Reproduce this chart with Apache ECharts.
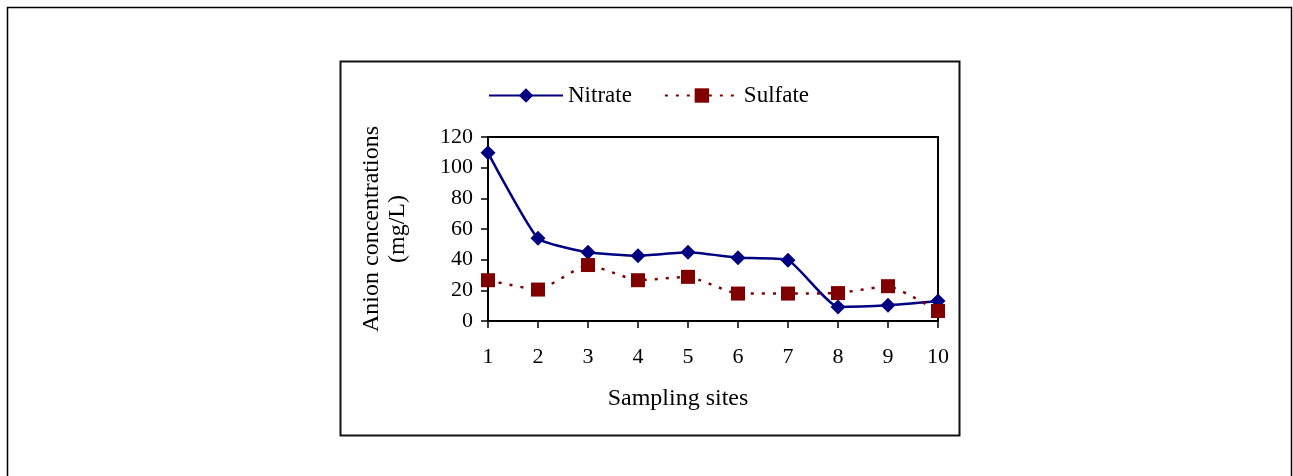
<!DOCTYPE html>
<html>
<head>
<meta charset="utf-8">
<script src="https://cdn.jsdelivr.net/npm/echarts@6/dist/echarts.min.js"></script>
<style>
html,body{margin:0;padding:0;background:#fff;}
#chart{width:1293px;height:476px;}
</style>
</head>
<body>
<div id="chart"></div>
<script>
const sites = ['1','2','3','4','5','6','7','8','9','10'];
const nitrate = [109.7, 53.9, 44.8, 42.6, 44.8, 41.3, 39.7, 9.2, 10.3, 13.1];
const sulfate = [26.6, 20.5, 36.5, 26.6, 28.8, 17.9, 17.9, 18.2, 22.7, 6.5];
const yTicks = [0, 20, 40, 60, 80, 100, 120];

const FONT = '"Liberation Serif", "Times New Roman", serif';
const chart = echarts.init(document.getElementById('chart'));
chart.setOption({
  backgroundColor: '#fff',
  animation: false,
  textStyle: { fontFamily: FONT, color: '#000' },
  graphic: [
    { type: 'rect', shape: { x: 7.5, y: 7.5, width: 1284, height: 500 },
      style: { fill: 'none', stroke: '#000', lineWidth: 1.5 } },
    { type: 'rect', shape: { x: 340.5, y: 61.5, width: 619, height: 374 },
      style: { fill: 'none', stroke: '#111', lineWidth: 2 } }
  ],
  legend: {
    left: 483, top: 79,
    itemWidth: 74, itemHeight: 18, itemGap: 32,
    textStyle: { fontFamily: FONT, fontSize: 23, color: '#000' },
    data: ['Nitrate', 'Sulfate']
  },
  grid: { left: 488, right: 355, top: 137, bottom: 155, show: true, borderColor: '#000', borderWidth: 2, containLabel: false },
  xAxis: {
    type: 'category', data: sites, boundaryGap: false,
    name: 'Sampling sites', nameLocation: 'middle', nameGap: 66,
    nameTextStyle: { fontFamily: FONT, fontSize: 24, color: '#000', padding: [0, 70, 0, 0] },
    axisLine: { lineStyle: { color: '#000', width: 2 } },
    axisTick: { show: true, length: 7, lineStyle: { color: '#000', width: 1.5 } },
    axisLabel: { fontFamily: FONT, fontSize: 22, color: '#000', margin: 25 },
    splitLine: { show: false }
  },
  yAxis: {
    type: 'value', min: 0, max: 120, interval: 20,
    name: 'Anion concentrations\n(mg/L)', nameLocation: 'middle', nameGap: 77,
    nameRotate: 90,
    nameTextStyle: { fontFamily: FONT, fontSize: 24, color: '#000', lineHeight: 26 },
    axisLine: { show: true, lineStyle: { color: '#000', width: 2 } },
    axisTick: { show: true, length: 7, lineStyle: { color: '#000', width: 1.5 } },
    axisLabel: { fontFamily: FONT, fontSize: 22, color: '#000', margin: 15,
      formatter: v => yTicks.includes(v) ? String(v) : '' },
    splitLine: { show: false }
  },
  series: [
    {
      name: 'Nitrate', type: 'line', data: nitrate, smooth: 0.15,
      symbol: 'diamond', symbolSize: 15,
      lineStyle: { color: '#000080', width: 2.5 },
      itemStyle: { color: '#000080' }
    },
    {
      name: 'Sulfate', type: 'line', data: sulfate, smooth: 0.15,
      symbol: 'rect', symbolSize: 14,
      lineStyle: { color: '#800000', width: 2.5, type: [3, 8] },
      itemStyle: { color: '#800000' }
    }
  ]
});
</script>
</body>
</html>
